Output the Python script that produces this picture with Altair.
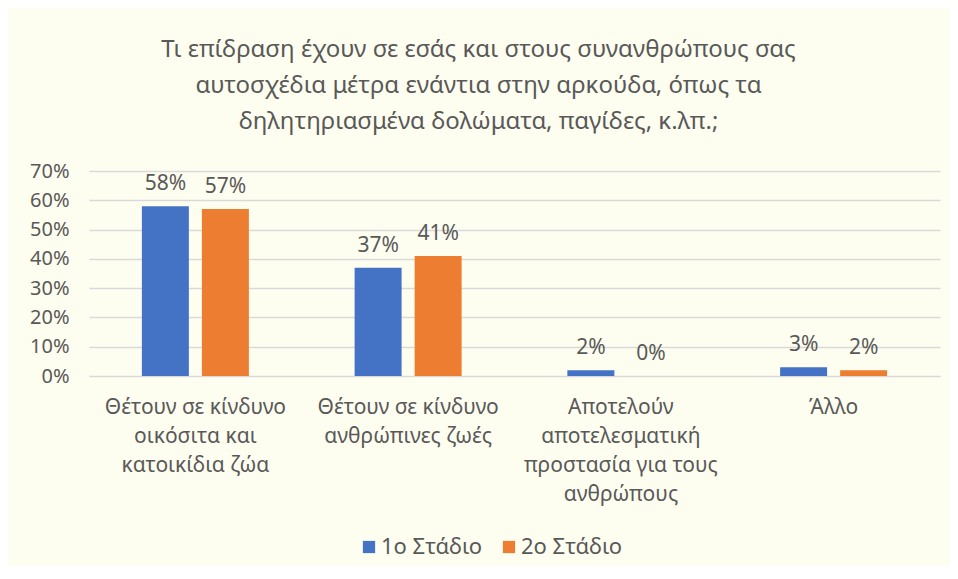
import altair as alt
import pandas as pd

categories = [
    "Θέτουν σε κίνδυνο\nοικόσιτα και\nκατοικίδια ζώα",
    "Θέτουν σε κίνδυνο\nανθρώπινες ζωές",
    "Αποτελούν\nαποτελεσματική\nπροστασία για τους\nανθρώπους",
    "Άλλο",
]
series_names = ["1ο Στάδιο", "2ο Στάδιο"]
stage1 = [0.58, 0.37, 0.02, 0.03]
stage2 = [0.57, 0.41, 0.00, 0.02]
colors = ["#4472C4", "#ED7D31"]

rows = []
for c, a, b in zip(categories, stage1, stage2):
    rows.append({"cat": c, "series": series_names[0], "value": a})
    rows.append({"cat": c, "series": series_names[1], "value": b})
df = pd.DataFrame(rows)

FONT = "Noto Sans"
TXT = "#595959"

x = alt.X(
    "cat:N",
    sort=categories,
    title=None,
    scale=alt.Scale(paddingInner=0.497, paddingOuter=0.2485),
    axis=alt.Axis(
        labelAngle=0,
        labelExpr="split(datum.label, '\\n')",
        labelLimit=0,
        labelLineHeight=29,
        labelPadding=20,
        labelBaseline="top",
        labelFontSize=21,
        labelColor=TXT,
        labelFont=FONT,
        ticks=False,
        domain=True,
        domainColor="#D9D9D9",
        grid=False,
    ),
)
xo = alt.XOffset("series:N", sort=series_names, scale=alt.Scale(paddingInner=0.217))
y = alt.Y(
    "value:Q",
    title=None,
    scale=alt.Scale(domain=[0, 0.7], nice=False),
    axis=alt.Axis(
        values=[0, 0.1, 0.2, 0.3, 0.4, 0.5, 0.6, 0.7],
        format=".0%",
        labelFontSize=20,
        labelColor=TXT,
        labelFont=FONT,
        labelPadding=20,
        ticks=False,
        domain=False,
        gridColor="#D9D9D9",
        gridWidth=1.5,
    ),
)
color = alt.Color(
    "series:N",
    sort=series_names,
    scale=alt.Scale(domain=series_names, range=colors),
    legend=alt.Legend(
        title=None,
        orient="none",
        direction="horizontal",
        legendX=269,
        legendY=365,
        symbolType="square",
        symbolSize=150,
        symbolStrokeWidth=0,
        labelFontSize=22,
        labelColor=TXT,
        labelFont=FONT,
        columnPadding=15,
        labelOffset=1,
    ),
)

bars = alt.Chart(df).mark_bar().encode(x=x, xOffset=xo, y=y, color=color)
labels = alt.Chart(df).mark_text(
    baseline="alphabetic", dy=-16, fontSize=21, font=FONT, color=TXT
).encode(
    x=x, xOffset=xo, y=y, text=alt.Text("value:Q", format=".0%")
)

chart = (
    alt.layer(bars, labels)
    .properties(
        width=851,
        height=205,
        autosize=alt.AutoSizeParams(type="none"),
        padding={"left": 81, "top": 163, "right": 10, "bottom": 190},
        background="#FEFEF0",
        title=alt.TitleParams(
            text=[
                "Τι επίδραση έχουν σε εσάς και στους συνανθρώπους σας",
                "αυτοσχέδια μέτρα ενάντια στην αρκούδα, όπως τα",
                "δηλητηριασμένα δολώματα, παγίδες, κ.λπ.;",
            ],
            anchor="middle",
            dx=-36,
            fontSize=24,
            fontWeight="normal",
            font=FONT,
            color=TXT,
            lineHeight=36,
            offset=27,
        ),
    )
    .configure_view(stroke=None)
)

chart.save("out.html", embed_options={"renderer": "svg", "actions": False})
